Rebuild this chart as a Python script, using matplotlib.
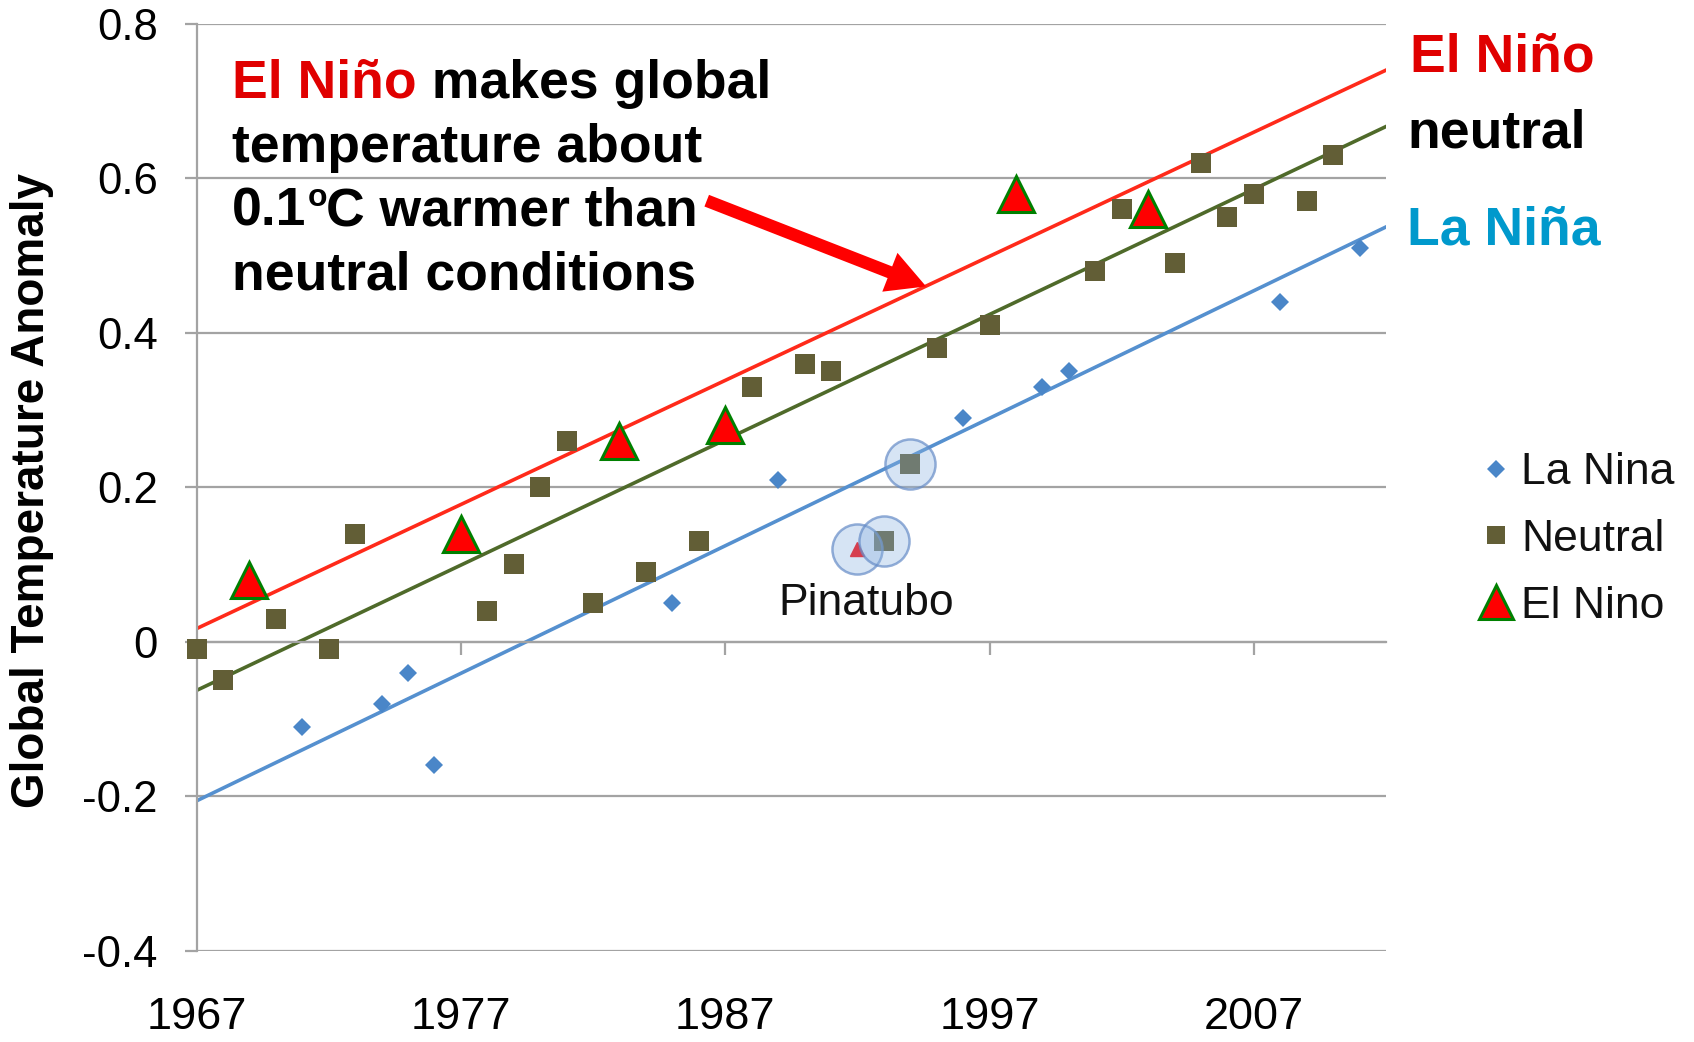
import matplotlib
matplotlib.use("Agg")
import matplotlib.pyplot as plt
from matplotlib.lines import Line2D

plt.rcParams['font.family'] = ['Liberation Sans', 'DejaVu Sans']

# ---------------- data ----------------
neutral_years = [1967, 1968, 1970, 1972, 1973, 1978, 1979, 1980, 1981, 1982, 1984, 1986,
                 1988, 1990, 1991, 1995, 1997, 2001, 2002, 2004, 2005, 2006, 2007, 2009, 2010]
neutral_vals = [-0.01, -0.05, 0.03, -0.01, 0.14, 0.04, 0.10, 0.20, 0.26, 0.05, 0.09, 0.13,
                0.33, 0.36, 0.35, 0.38, 0.41, 0.48, 0.56, 0.49, 0.62, 0.55, 0.58, 0.57, 0.63]
elnino_years = [1969, 1977, 1983, 1987, 1998, 2003]
elnino_vals = [0.08, 0.14, 0.26, 0.28, 0.58, 0.56]
lanina_years = [1971, 1974, 1975, 1976, 1985, 1989, 1996, 1999, 2000, 2008, 2011]
lanina_vals = [-0.11, -0.08, -0.04, -0.16, 0.05, 0.21, 0.29, 0.33, 0.35, 0.44, 0.51]
# Pinatubo-affected years (circled)
pinatubo_elnino_years = [1992]
pinatubo_elnino_vals = [0.12]
pinatubo_neutral_years = [1993, 1994]
pinatubo_neutral_vals = [0.13, 0.23]

trend_years = [1967, 2012]
elnino_trend = [0.017, 0.740]
neutral_trend = [-0.063, 0.667]
lanina_trend = [-0.206, 0.537]

x_ticks = [1967, 1977, 1987, 1997, 2007]
x_labels = ['1967', '1977', '1987', '1997', '2007']
y_ticks = [0.8, 0.6, 0.4, 0.2, 0.0, -0.2, -0.4]
y_labels = ['0.8', '0.6', '0.4', '0.2', '0', '-0.2', '-0.4']

legend_labels = ['La Nina', 'Neutral', 'El Nino']

# ---------------- styles ----------------
RED_LINE = '#FF2A1A'
OLIVE_LINE = '#4F6A2A'
BLUE_LINE = '#5590CF'
SQ_COLOR = '#625E36'
DIA_COLOR = '#4A86C8'
GRID = '#A3A3A3'

W, H = 1694, 1042
fig = plt.figure(figsize=(W / 100, H / 100), dpi=100)
left, right, top, bottom = 196.6, 1386.0, 23.8, 950.7
ax = fig.add_axes([left / W, 1 - bottom / H, (right - left) / W, (bottom - top) / H])

ax.set_xlim(1967, 2012)
ax.set_ylim(-0.4, 0.8)

# grid / spines
ax.set_yticks(y_ticks)
ax.set_yticklabels(y_labels)
ax.yaxis.grid(True, color=GRID, lw=1.6)
ax.set_axisbelow(True)
for s in ['top', 'right']:
    ax.spines[s].set_visible(False)
ax.spines['left'].set_color(GRID)
ax.spines['left'].set_linewidth(1.6)
ax.spines['bottom'].set_position(('data', 0))
ax.spines['bottom'].set_color(GRID)
ax.spines['bottom'].set_linewidth(1.6)
ax.tick_params(axis='y', length=9, width=1.6, color=GRID, pad=19, labelsize=31.5)
ax.set_xticks(x_ticks)
ax.tick_params(axis='x', length=9, width=1.6, color=GRID, direction='out', labelbottom=False)

sec = ax.secondary_xaxis(0)
sec.set_xticks(x_ticks)
sec.set_xticklabels(x_labels)
sec.tick_params(length=0, pad=33, labelsize=32.5)
sec.spines['bottom'].set_visible(False)

# trend lines
ax.plot(trend_years, elnino_trend, color=RED_LINE, lw=2.6, zorder=2)
ax.plot(trend_years, neutral_trend, color=OLIVE_LINE, lw=2.6, zorder=2)
ax.plot(trend_years, lanina_trend, color=BLUE_LINE, lw=2.6, zorder=2)

# markers
ax.plot(lanina_years, lanina_vals, 'D', color=DIA_COLOR, ms=9.5, mew=0, zorder=3, clip_on=False)
ax.plot(neutral_years, neutral_vals, 's', color=SQ_COLOR, ms=14, mew=0, zorder=3, clip_on=False)
ax.plot(pinatubo_neutral_years, pinatubo_neutral_vals, 's', color=SQ_COLOR, ms=14, mew=0, zorder=3)
ax.plot(elnino_years, elnino_vals, '^', mfc='#FF0000', mec='#008000', mew=2.2, ms=26, zorder=4,
        clip_on=False)
ax.plot(pinatubo_elnino_years, pinatubo_elnino_vals, '^', mfc='#FF0000', mec='#FF0000', ms=10, zorder=4)

# Pinatubo circles
ax.scatter(pinatubo_elnino_years + pinatubo_neutral_years,
           pinatubo_elnino_vals + pinatubo_neutral_vals,
           s=1300, facecolor=(0.55, 0.7, 0.88, 0.35), edgecolor=(0.4, 0.55, 0.78, 0.7),
           lw=1.8, zorder=5)
ax.text(1992.35, 0.035, 'Pinatubo', fontsize=32, ha='center', va='baseline', color='#111111')

# arrow
ax.annotate('', xy=(1994.6, 0.46), xytext=(1986.3, 0.571),
            arrowprops=dict(arrowstyle='simple,head_length=1.4,head_width=1.5,tail_width=0.45',
                            mutation_scale=20, fc='#FF0000', ec='none', lw=0,
                            shrinkA=0, shrinkB=0), zorder=6)

# annotation text
FS = 38.5
def fy(px):
    return 1 - px / H

t1 = fig.text(232 / W, fy(98), 'El Niño', color='#E00000', fontsize=FS, fontweight='bold',
              va='baseline', ha='left')
ax.annotate(' makes global', xy=(1, 0), xycoords=t1, va='bottom', ha='left',
            fontsize=FS, fontweight='bold', color='black', annotation_clip=False)
fig.text(232 / W, fy(162), 'temperature about', color='black', fontsize=FS, fontweight='bold',
         va='baseline', ha='left')
t3 = fig.text(232 / W, fy(226), '0.1', color='black', fontsize=FS, fontweight='bold',
              va='baseline', ha='left')
to = ax.annotate('o', xy=(1, 0), xycoords=t3, xytext=(1, 17), textcoords='offset points',
                 va='bottom', ha='left', fontsize=23, fontweight='bold', color='black',
                 annotation_clip=False)
ax.annotate('C warmer than', xy=(1, 0), xycoords=(to, t3), xytext=(-1, 0),
            textcoords='offset points', va='bottom', ha='left',
            fontsize=FS, fontweight='bold', color='black', annotation_clip=False)
fig.text(232 / W, fy(290), 'neutral conditions', color='black', fontsize=FS, fontweight='bold',
         va='baseline', ha='left')

# right labels
fig.text(1410 / W, fy(71), 'El Niño', color='#E00000', fontsize=FS, fontweight='bold',
         va='baseline', ha='left')
fig.text(1407 / W, fy(148), 'neutral', color='black', fontsize=FS, fontweight='bold',
         va='baseline', ha='left')
fig.text(1407 / W, fy(244), 'La Niña', color='#0099CC', fontsize=FS, fontweight='bold',
         va='baseline', ha='left')

# y label
fig.text(32 / W, fy(490), 'Global Temperature Anomaly', rotation=90, fontsize=33,
         fontweight='bold', ha='center', va='center')

# legend
handles = [
    Line2D([], [], ls='none', marker='D', color=DIA_COLOR, ms=9, mew=0),
    Line2D([], [], ls='none', marker='s', color=SQ_COLOR, ms=13, mew=0),
    Line2D([], [], ls='none', marker='^', mfc='#FF0000', mec='#008000', mew=2.2, ms=25),
]
fig.legend(handles, legend_labels, loc='upper left', bbox_to_anchor=(1452 / W, fy(430)),
           frameon=False, fontsize=32, handlelength=1.0, handletextpad=0.05,
           labelspacing=0.58, borderpad=0, labelcolor='#111111')

fig.savefig('out.png', dpi=100)
